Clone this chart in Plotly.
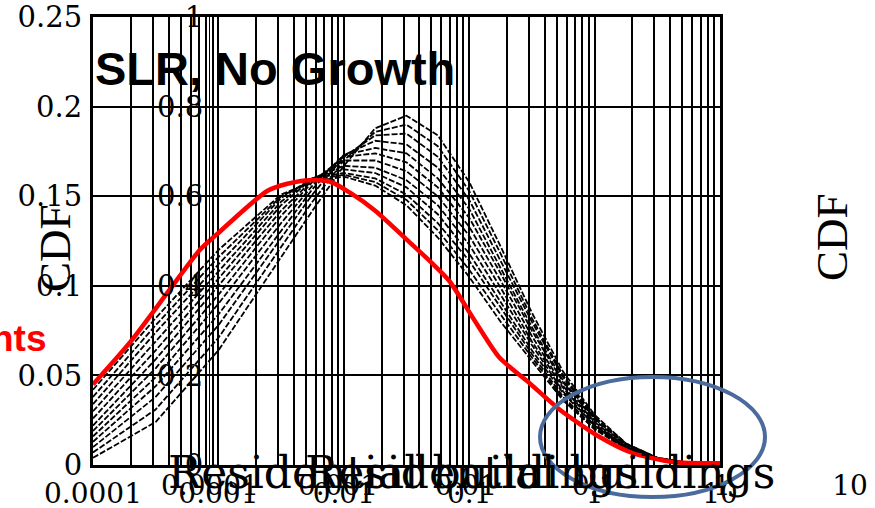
import plotly.graph_objects as go

# ---------------- data ----------------
x_grid = [0.0001, 0.000316, 0.001, 0.00316, 0.00562, 0.01, 0.0178, 0.0316, 0.0562,
          0.1, 0.178, 0.316, 0.562, 1, 1.78, 3.16, 5.62, 10]

pdf_runs = [
    [0.004, 0.024, 0.064, 0.116, 0.142, 0.167, 0.188, 0.195, 0.184, 0.158, 0.122, 0.085, 0.052, 0.028, 0.012, 0.004, 0.001, 0.000],
    [0.007, 0.031, 0.071, 0.122, 0.147, 0.170, 0.186, 0.190, 0.178, 0.153, 0.118, 0.082, 0.050, 0.027, 0.012, 0.004, 0.001, 0.000],
    [0.010, 0.038, 0.078, 0.127, 0.151, 0.172, 0.184, 0.185, 0.172, 0.148, 0.114, 0.080, 0.049, 0.026, 0.011, 0.004, 0.001, 0.000],
    [0.013, 0.044, 0.084, 0.131, 0.154, 0.173, 0.181, 0.179, 0.166, 0.143, 0.110, 0.077, 0.047, 0.026, 0.011, 0.004, 0.001, 0.000],
    [0.016, 0.049, 0.090, 0.135, 0.156, 0.173, 0.177, 0.174, 0.160, 0.138, 0.107, 0.075, 0.046, 0.025, 0.011, 0.004, 0.001, 0.000],
    [0.019, 0.054, 0.095, 0.139, 0.158, 0.172, 0.174, 0.169, 0.155, 0.133, 0.103, 0.072, 0.044, 0.024, 0.010, 0.003, 0.001, 0.000],
    [0.022, 0.059, 0.100, 0.142, 0.159, 0.170, 0.170, 0.164, 0.150, 0.128, 0.099, 0.069, 0.043, 0.023, 0.010, 0.003, 0.001, 0.000],
    [0.026, 0.064, 0.104, 0.145, 0.160, 0.167, 0.166, 0.159, 0.145, 0.123, 0.095, 0.067, 0.041, 0.022, 0.010, 0.003, 0.001, 0.000],
    [0.030, 0.069, 0.108, 0.147, 0.160, 0.165, 0.163, 0.155, 0.140, 0.118, 0.091, 0.064, 0.040, 0.022, 0.009, 0.003, 0.001, 0.000],
    [0.034, 0.074, 0.112, 0.149, 0.160, 0.163, 0.160, 0.151, 0.135, 0.114, 0.088, 0.062, 0.038, 0.021, 0.009, 0.003, 0.001, 0.000],
    [0.038, 0.078, 0.116, 0.150, 0.159, 0.162, 0.158, 0.148, 0.131, 0.109, 0.084, 0.060, 0.037, 0.020, 0.009, 0.003, 0.001, 0.000],
    [0.042, 0.082, 0.120, 0.151, 0.158, 0.161, 0.156, 0.145, 0.127, 0.105, 0.080, 0.058, 0.036, 0.020, 0.009, 0.003, 0.001, 0.000],
]

red_x = [0.0001, 0.0002, 0.00041, 0.00071, 0.00098, 0.00245, 0.00355, 0.0054, 0.0079, 0.0112,
         0.0178, 0.0316, 0.05, 0.069, 0.112, 0.174, 0.288, 0.525, 1.1, 2.0, 4.17, 10]
red_y = [0.045, 0.069, 0.098, 0.120, 0.129, 0.153, 0.157, 0.159, 0.158, 0.152,
         0.142, 0.126, 0.113, 0.103, 0.080, 0.060, 0.047, 0.031, 0.0156, 0.0067, 0.0017, 0.001]

x_tickvals = [0.0001, 0.001, 0.01, 0.1, 1, 10]
x_ticktext = ["0.0001", "0.001", "0.01", "0.1", "1", "10"]
y_tickvals = [0, 0.05, 0.1, 0.15, 0.2, 0.25]
y_ticktext = ["0", "0.05", "0.1", "0.15", "0.2", "0.25"]
cdf_tickvals = [0, 0.2, 0.4, 0.6, 0.8, 1]
cdf_ticktext = ["0", "0.2", "0.4", "0.6", "0.8", "1"]

title_text = "SLR, No Growth"
x_title = "Residential buildings"
y_title = "CDF"
side_text = "nts"

# ---------------- figure ----------------
W, H = 875, 508
ML, MR, MT, MB = 93, 15, 17, 43
PW = W - ML - MR
PH = H - MT - MB

def px_x(p):
    return (p - ML) / PW

def px_y(p):
    return (H - MB - p) / PH

SERIF = "Liberation Serif, Times New Roman, serif"
WIDE_SERIF = "DejaVu Serif, serif"
SANS = "Liberation Sans, Arial, sans-serif"

fig = go.Figure()

# invisible trace to activate the secondary (offset) axes; drawn first
fig.add_trace(go.Scatter(x=[0.0001, 10], y=[0, 1], xaxis="x2", yaxis="y2",
                         mode="lines", line=dict(width=0), showlegend=False,
                         hoverinfo="skip"))

for run in pdf_runs:
    fig.add_trace(go.Scatter(x=x_grid, y=run, mode="lines",
                             line=dict(color="black", width=1.8, dash="6px,2px"),
                             showlegend=False, hoverinfo="skip"))

fig.add_trace(go.Scatter(x=red_x, y=red_y, mode="lines",
                         line=dict(color="#FF0000", width=4.5, shape="spline", smoothing=0.7),
                         showlegend=False, hoverinfo="skip"))

main_right = 720
fig.update_layout(
    width=W, height=H,
    margin=dict(l=ML, r=MR, t=MT, b=MB, autoexpand=False),
    paper_bgcolor="white", plot_bgcolor="rgba(0,0,0,0)",
    showlegend=False,
    xaxis=dict(type="log", range=[-4, 1], domain=[0, px_x(main_right)],
               anchor="y", automargin=False, ticklabeloverflow="allow",
               tickvals=x_tickvals, ticktext=x_ticktext,
               tickfont=dict(family=WIDE_SERIF, size=28, color="black"),
               showgrid=True, gridcolor="black", gridwidth=2.3,
               minor=dict(dtick="D1", showgrid=True, gridcolor="black", gridwidth=2.3, ticks=""),
               showline=True, linecolor="black", linewidth=3, mirror=True,
               ticks="", zeroline=False, ticklabelstandoff=1),
    yaxis=dict(range=[0, 0.2501], domain=[0, 1], anchor="x", automargin=False,
               ticklabeloverflow="allow",
               tickvals=y_tickvals, ticktext=y_ticktext,
               tickfont=dict(family=WIDE_SERIF, size=29, color="black"),
               showgrid=True, gridcolor="black", gridwidth=2.3,
               showline=True, linecolor="black", linewidth=3, mirror=True,
               ticks="", zeroline=False, ticklabelstandoff=2),
    xaxis2=dict(type="log", range=[-4, 1], domain=[px_x(210), px_x(850)],
                anchor="y2", automargin=False, ticklabeloverflow="allow",
                tickvals=x_tickvals, ticktext=x_ticktext,
                tickfont=dict(family=WIDE_SERIF, size=28, color="black"),
                showgrid=False, showline=False, zeroline=False, ticks="",
                ticklabelstandoff=1),
    yaxis2=dict(range=[0, 1.0005], domain=[0, 1], anchor="x2", automargin=False,
                ticklabeloverflow="allow",
                tickvals=cdf_tickvals, ticktext=cdf_ticktext,
                tickfont=dict(family=WIDE_SERIF, size=29, color="black"),
                showgrid=False, showline=True, linecolor="black", linewidth=1,
                zeroline=False, ticks="", ticklabelstandoff=0),
)

annotations = [
    dict(text="<b>" + title_text + "</b>", x=0.0, y=px_y(68), xref="paper", yref="paper",
         xanchor="left", yanchor="middle", showarrow=False,
         font=dict(family=SANS, size=47, color="black")),
    dict(text="<b>" + side_text + "</b>", x=px_x(49), y=px_y(338), xref="paper", yref="paper",
         xanchor="right", yanchor="middle", showarrow=False,
         font=dict(family=SANS, size=37, color="#FF0000")),
    dict(text=y_title, x=px_x(55), y=px_y(248), xref="paper", yref="paper",
         xanchor="center", yanchor="middle", textangle=-90, showarrow=False,
         font=dict(family=SERIF, size=45, color="black")),
    dict(text=y_title, x=px_x(832), y=px_y(237), xref="paper", yref="paper",
         xanchor="center", yanchor="middle", textangle=-90, showarrow=False,
         font=dict(family=SERIF, size=45, color="black")),
    dict(text=x_title, x=px_x(166), y=px_y(472), xref="paper", yref="paper",
         xanchor="left", yanchor="middle", showarrow=False,
         font=dict(family=WIDE_SERIF, size=44, color="black")),
    dict(text=x_title, x=px_x(303), y=px_y(472), xref="paper", yref="paper",
         xanchor="left", yanchor="middle", showarrow=False,
         font=dict(family=WIDE_SERIF, size=44, color="black")),
]
fig.update_layout(annotations=annotations)

fig.add_shape(type="circle", xref="paper", yref="paper",
              x0=px_x(540), x1=px_x(765), y0=px_y(497), y1=px_y(377),
              line=dict(color="#4A6B9B", width=4), fillcolor="rgba(0,0,0,0)")

fig.write_html("out.html", config={"displayModeBar": False},
               post_script="document.body.style.margin='0px';document.body.style.padding='0px';document.body.style.overflow='hidden';")
